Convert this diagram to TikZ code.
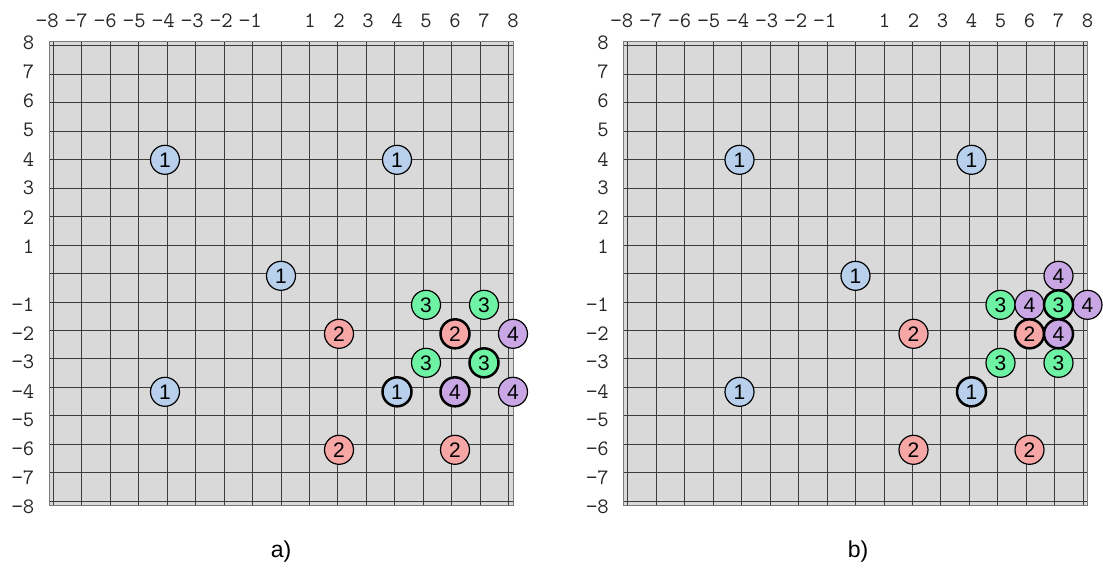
\documentclass[tikz,border=0pt]{standalone}
\usepackage{fontspec}
\setmainfont{Liberation Sans}
\definecolor{gridgray}{HTML}{D9D9D9}
\definecolor{gridline}{HTML}{3C3C3C}
\definecolor{gridborder}{HTML}{7A7A7A}
\definecolor{tickcol}{HTML}{262626}
\definecolor{cblue}{HTML}{B8D0EC}
\definecolor{cred}{HTML}{F7A6A6}
\definecolor{cgreen}{HTML}{6EF3A4}
\definecolor{cpurple}{HTML}{C9A6E4}
\tikzset{
  tick/.style={font=\ttfamily\fontsize{22}{22}\selectfont, text=tickcol, inner sep=0pt},
  disc/.style={circle, draw=black, line width=1.2pt, minimum size=29pt, inner sep=0pt,
               font=\fontsize{21}{21}\selectfont},
  w0/.style={},
  w1/.style={line width=2.5pt},
  c1/.style={disc, fill=cblue},
  c2/.style={disc, fill=cred},
  c3/.style={disc, fill=cgreen},
  c4/.style={disc, fill=cpurple},
  caption/.style={font=\fontsize{23}{23}\selectfont, inner sep=0pt},
  gridlines/.style={draw=gridline, line width=0.9pt},
}
\newcommand{\boardgrid}[1]{%
  \fill[gridgray] (-8,-8) rectangle (8,8);
  \draw[gridlines] (-8,-8) grid (8,8);
  \draw[draw=gridborder, line width=0.9pt] (-8,-8) rectangle (8,8);
  \foreach \v [count=\k] in {8,7,6,5,4,3,2,1}{
    \node[tick] (#1tn\k) at (-\v-0.06, 8.72) {−\v};
    \node[tick] (#1tp\k) at (\v, 8.72) {\v};
    \node[tick, anchor=east] (#1lp\k) at (-8.5, \v-0.06) {\v};
    \node[tick, anchor=east] (#1ln\k) at (-8.5, -\v-0.06) {−\v};
  }
}
\begin{document}
\begin{tikzpicture}[x=1pt, y=1pt]
\useasboundingbox (0,0) rectangle (1103,-569);
% panel a
\begin{scope}[shift={(281,-273.5)}, x=29pt, y=29pt]
  \boardgrid{a}
  \foreach \px/\py/\t/\b [count=\k] in {
    -4/4/1/0, 4/4/1/0, 0/0/1/0, -4/-4/1/0,
    2/-2/2/0, 2/-6/2/0, 6/-6/2/0,
    5/-1/3/0, 7/-1/3/0, 5/-3/3/0,
    8/-2/4/0, 8/-4/4/0,
    4/-4/1/1, 6/-2/2/1, 7/-3/3/1, 6/-4/4/1}{
    \node[c\t, w\b] (a\k) at (\px, \py-0.08) {\t};
  }
\end{scope}
\node[caption] (capa) at (281,-552) {a)};
% panel b
\begin{scope}[shift={(855.5,-273.5)}, x=29pt, y=29pt]
  \boardgrid{b}
  \foreach \px/\py/\t/\b [count=\k] in {
    -4/4/1/0, 4/4/1/0, 0/0/1/0, -4/-4/1/0,
    2/-2/2/0, 2/-6/2/0, 6/-6/2/0,
    5/-1/3/0, 5/-3/3/0, 7/-3/3/0,
    7/0/4/0, 6/-1/4/0, 8/-1/4/0,
    4/-4/1/1, 7/-1/3/1, 6/-2/2/1, 7/-2/4/1}{
    \node[c\t, w\b] (b\k) at (\px, \py-0.08) {\t};
  }
\end{scope}
\node[caption] (capb) at (858,-552) {b)};
\end{tikzpicture}
\end{document}
